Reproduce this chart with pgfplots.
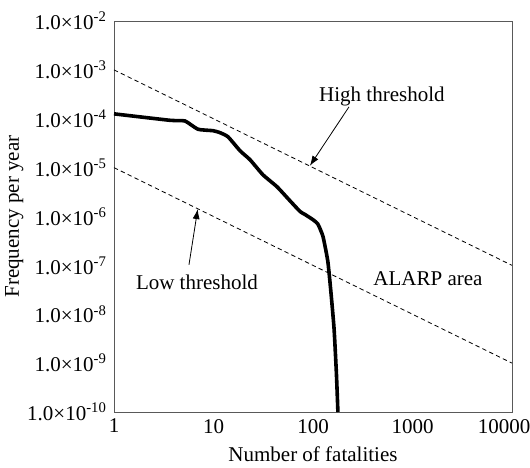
\documentclass[border=0pt]{standalone}
\usepackage{fontspec}
\setmainfont{Liberation Serif}
\usepackage{pgfplots}
\pgfplotsset{compat=1.18}
\usetikzlibrary{arrows.meta}

\begin{document}
\begin{tikzpicture}
\begin{axis}[
    at={(0pt,0pt)}, anchor=south west,
    scale only axis,
    width=199pt,
    height=195.5pt,
    xmode=log,
    ymode=log,
    xmin=1, xmax=10000,
    ymin=1e-10, ymax=1e-2,
    xtick={1,10,100,1000,10000},
    xticklabels={1,10,100,1000,\hspace{-8pt}10000},
    ytick={1e-10,1e-9,1e-8,1e-7,1e-6,1e-5,1e-4,1e-3,1e-2},
    yticklabels={1.0×10\textsuperscript{-10},1.0×10\textsuperscript{-9},1.0×10\textsuperscript{-8},1.0×10\textsuperscript{-7},1.0×10\textsuperscript{-6},1.0×10\textsuperscript{-5},1.0×10\textsuperscript{-4},1.0×10\textsuperscript{-3},1.0×10\textsuperscript{-2}},
    minor tick num=0,
    major tick length=0pt,
    minor tick length=0pt,
    axis line style={black!65},
    tick label style={font=\fontsize{10.5}{12}\selectfont},
    label style={font=\fontsize{10.5}{12}\selectfont},
    xlabel={Number of fatalities},
    ylabel={Frequency per year},
    xlabel style={yshift=0pt},
    ylabel style={yshift=-5pt},
    clip=true,
]
% thresholds
\addplot[black, thin, dash pattern=on 2.2pt off 1.6pt] coordinates {(1,1e-3) (10000,1e-7)};
\addplot[black, thin, dash pattern=on 2.2pt off 1.6pt] coordinates {(1,1e-5) (10000,1e-9)};

% F-N curve
\addplot[black, line width=1.8pt, smooth, tension=0.3] coordinates {
    (1,1.26e-4) (3.65,9.3e-5) (5.17,9.0e-5) (6.98,6.1e-5) (9.89,5.7e-5)
    (11.6,5.2e-5) (14.0,4.27e-5) (18.5,2.21e-5) (23.3,1.45e-5) (31.4,7.14e-6)
    (43.5,4.06e-6) (58.7,2.1e-6) (74,1.27e-6) (83,1.1e-6) (100,8.6e-7) (112,7.0e-7)
    (126,3.9e-7) (141,1.2e-7) (152,2.6e-8) (163,4.9e-9) (172,6e-10) (178,1e-10)
};

\draw[-{Latex[length=5pt,width=3.5pt]}, thin] (axis cs:230,1.75e-4) -- (axis cs:93,1.09e-5);
\node[font=\fontsize{10.5}{12}\selectfont] at (axis cs:493,2.8e-4) {High threshold};

\draw[-{Latex[length=5pt,width=3.5pt]}, thin] (axis cs:5.67,1.03e-7) -- (axis cs:6.94,1.42e-6);
\node[font=\fontsize{10.5}{12}\selectfont] at (axis cs:6.82,4.4e-8) {Low threshold};

\node[font=\fontsize{10.5}{12}\selectfont] at (axis cs:1432,5.4e-8) {ALARP area};
\end{axis}
\pgfresetboundingbox
\useasboundingbox (-57pt,-27.5pt) rectangle (208pt,206pt);
\end{tikzpicture}
\end{document}
